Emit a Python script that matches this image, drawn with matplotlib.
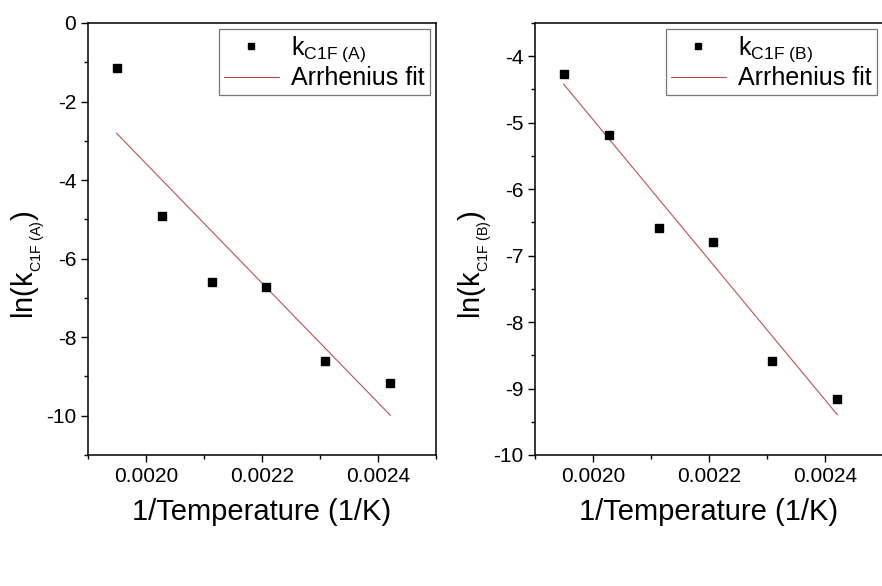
import numpy as np
import matplotlib
matplotlib.use("Agg")
import matplotlib.pyplot as plt
from matplotlib.ticker import MultipleLocator

plt.rcParams['font.family'] = ['Liberation Sans', 'DejaVu Sans']
plt.rcParams['mathtext.fontset'] = 'custom'
plt.rcParams['mathtext.rm'] = 'Liberation Sans'
plt.rcParams['mathtext.it'] = 'Liberation Sans'

# temperatures (K) -> x = 1/T
temps_K = [513, 493, 473, 453, 433, 413]
ln_k_A = [-1.15, -4.92, -6.60, -6.72, -8.60, -9.16]
ln_k_B = [-4.26, -5.19, -6.59, -6.79, -8.59, -9.16]

series_labels = [r'k$_{\mathregular{C1F\ (A)}}$', r'k$_{\mathregular{C1F\ (B)}}$']
ylabels = [r'ln(k$_{_{\mathregular{C1F\ (A)}}}$)', r'ln(k$_{_{\mathregular{C1F\ (B)}}}$)']
fit_label = 'Arrhenius fit'

inv_T = 1.0 / np.array(temps_K, dtype=float)

fig = plt.figure(figsize=(8.82, 5.86), dpi=100)
ax1 = fig.add_axes([88/882, 131/586, 348/882, 432/586])
ax2 = fig.add_axes([535/882, 131/586, 348/882, 432/586])

panels = [
    (ax1, ln_k_A, (-11, 0), 2, 1, series_labels[0], ylabels[0]),
    (ax2, ln_k_B, (-10, -3.5), 1, 0.5, series_labels[1], ylabels[1]),
]

for ax, vals, ylim, ymaj, ymin, lab, ylab in panels:
    vals = np.array(vals)
    # linear Arrhenius fit of ln(k) vs 1/T
    slope, icpt = np.polyfit(inv_T, vals, 1)
    xs = np.array([inv_T.min(), inv_T.max()])
    ax.plot(inv_T, vals, 's', color='black', ms=5.5, label=lab, zorder=3)
    ax.plot(xs, slope * xs + icpt, '-', color='#c05050', lw=0.8, label=fit_label)

    ax.set_xlim(0.0019, 0.0025)
    ax.set_ylim(*ylim)
    ax.xaxis.set_major_locator(MultipleLocator(0.0002))
    ax.xaxis.set_minor_locator(MultipleLocator(0.0001))
    ax.yaxis.set_major_locator(MultipleLocator(ymaj))
    ax.yaxis.set_minor_locator(MultipleLocator(ymin))
    ax.xaxis.set_major_formatter(plt.FuncFormatter(lambda v, p: '%.4f' % v))
    ax.yaxis.set_major_formatter(plt.FuncFormatter(lambda v, p: '%g' % v))
    ax.tick_params(which='major', direction='out', length=5, width=1, labelsize=15)
    ax.tick_params(which='minor', direction='out', length=3, width=1)
    for s in ax.spines.values():
        s.set_linewidth(1.1)

    ax.set_xlabel('1/Temperature (1/K)', fontsize=21, labelpad=9)
    ax.set_ylabel(ylab, fontsize=21)
    ax.yaxis.set_label_coords(-0.117, 0.44)

    leg = ax.legend(loc='upper right', fontsize=18, frameon=True, fancybox=False,
                    edgecolor='#555555', borderaxespad=0.25, handlelength=2.2,
                    handletextpad=0.5, borderpad=0.2, labelspacing=0.1, markerscale=0.9)
    leg.get_frame().set_linewidth(0.9)

fig.savefig('out.png', dpi=100)
